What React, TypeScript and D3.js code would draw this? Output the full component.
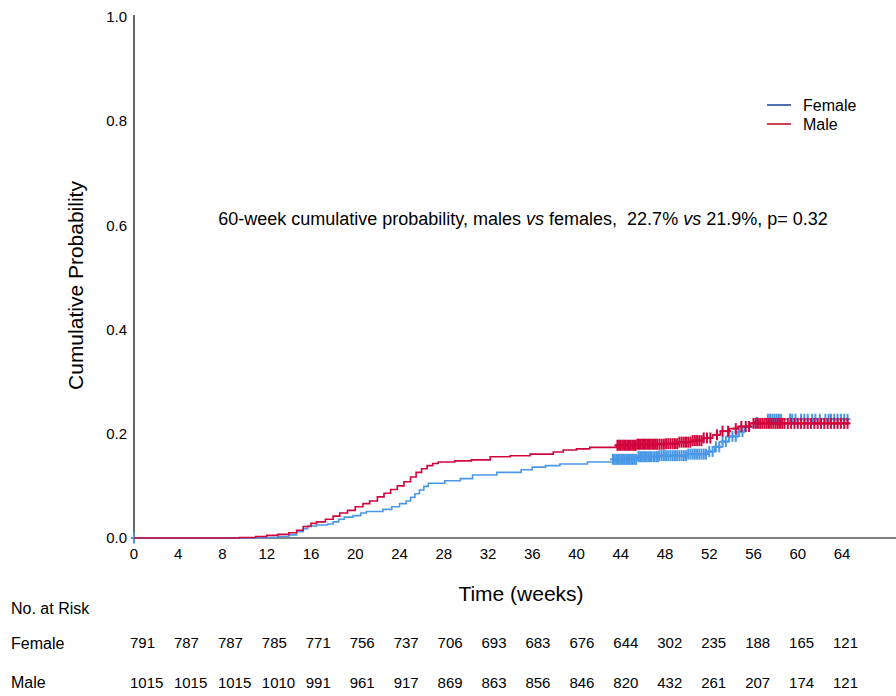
import { useEffect, useRef } from "react";
import * as d3 from "d3";

const timeTicks = [0, 4, 8, 12, 16, 20, 24, 28, 32, 36, 40, 44, 48, 52, 56, 60, 64];
const probTicks = [0, 0.2, 0.4, 0.6, 0.8, 1.0];
const lastWeek = 64.7;

// [week, cumulative probability]
const femaleSteps: [number, number][] = [
  [0, 0], [11.5, 0.001], [13, 0.003], [14, 0.006], [14.7, 0.012], [15.3, 0.018],
  [15.7, 0.023], [16.5, 0.025], [17.5, 0.027], [18, 0.031], [18.5, 0.036],
  [19, 0.04], [19.8, 0.043], [20.5, 0.048], [21, 0.051], [22.5, 0.055],
  [23.3, 0.06], [24, 0.066], [24.6, 0.071], [25, 0.078], [25.4, 0.085],
  [25.8, 0.092], [26.2, 0.099], [26.6, 0.105], [28.1, 0.11], [29.5, 0.114],
  [30.6, 0.121], [32.8, 0.126], [35, 0.131], [36, 0.136], [37.2, 0.139],
  [38.5, 0.142], [41, 0.146], [43.3, 0.151], [45.5, 0.156], [47.5, 0.158],
  [50, 0.161], [51.8, 0.166], [52.5, 0.175], [53.2, 0.185], [53.8, 0.195],
  [54.5, 0.204], [55.2, 0.213], [56, 0.222], [57, 0.228],
];

const maleSteps: [number, number][] = [
  [0, 0], [9.5, 0.001], [11, 0.003], [12, 0.005], [13, 0.007], [14, 0.01],
  [14.7, 0.015], [15.3, 0.022], [16, 0.028], [16.5, 0.031], [17.3, 0.036],
  [18, 0.042], [18.6, 0.048], [19.3, 0.053], [20, 0.06], [20.7, 0.066],
  [21.3, 0.071], [22, 0.079], [22.6, 0.086], [23.2, 0.093], [23.8, 0.1],
  [24.4, 0.108], [25, 0.117], [25.5, 0.126], [26, 0.133], [26.5, 0.139],
  [27, 0.143], [27.5, 0.146], [29, 0.148], [30.5, 0.15], [32.2, 0.156],
  [34, 0.158], [35.8, 0.161], [37.9, 0.165], [38.8, 0.169], [40, 0.171],
  [41.2, 0.174], [43.6, 0.178], [45.5, 0.18], [48, 0.181], [49.3, 0.184],
  [50.5, 0.187], [51.5, 0.192], [52.3, 0.198], [53, 0.205], [53.8, 0.21],
  [54.6, 0.214], [55.7, 0.22],
];

const femaleCensor = [
  0, 43.3, 43.45, 43.6, 43.75, 43.9, 44.05, 44.2, 44.35, 44.5, 44.65, 44.8,
  44.95, 45.1, 45.25, 45.4, 45.6, 45.75, 45.9, 46.05, 46.2, 46.35, 46.5,
  46.65, 46.8, 47.0, 47.2, 47.35, 47.5, 47.7, 47.9, 48.1, 48.3, 48.5, 48.7,
  48.9, 49.1, 49.3, 49.5, 49.7, 49.9, 50.1, 50.3, 50.5, 50.7, 50.9, 51.1,
  51.3, 51.5, 51.7, 52.0, 52.3, 52.6, 52.9, 53.2, 53.5, 53.8, 54.1, 54.4,
  54.7, 55.0, 56.3, 57.3, 57.5, 57.7, 57.9, 58.1, 58.3, 58.5, 59.3, 59.5,
  59.8, 60.3, 60.6, 60.9, 61.3, 61.6, 62.0, 62.5, 62.8, 63.0, 63.3, 63.6,
  63.9, 64.2, 64.5,
];

const maleCensor = [
  43.7, 43.85, 44.0, 44.15, 44.3, 44.45, 44.6, 44.75, 44.9, 45.05, 45.2,
  45.35, 45.5, 45.65, 45.8, 45.95, 46.1, 46.25, 46.4, 46.55, 46.7, 46.85,
  47.0, 47.15, 47.3, 47.5, 47.7, 47.9, 48.1, 48.3, 48.5, 48.7, 48.9, 49.1,
  49.3, 49.5, 49.7, 49.9, 50.1, 50.3, 50.5, 50.7, 50.9, 51.1, 51.3, 51.5,
  51.8, 52.1, 52.7, 53.2, 53.7, 54.4, 54.9, 55.3, 55.6, 56.0, 56.2, 56.4,
  56.6, 56.8, 57.0, 57.2, 57.4, 57.6, 57.8, 58.0, 58.2, 58.4, 58.6, 58.8,
  59.1, 59.4, 59.7, 60.0, 60.3, 60.6, 60.9, 61.2, 61.5, 61.8, 62.1, 62.4,
  62.7, 63.0, 63.3, 63.6, 63.9, 64.2, 64.5,
];

const femaleAtRisk = [791, 787, 787, 785, 771, 756, 737, 706, 693, 683, 676, 644, 302, 235, 188, 165, 121];
const maleAtRisk = [1015, 1015, 1015, 1010, 991, 961, 917, 869, 863, 856, 846, 820, 432, 261, 207, 174, 121];

const groups = [
  { name: "Female", steps: femaleSteps, censor: femaleCensor, atRisk: femaleAtRisk, line: "#4a98e6", key: "#3d5ea8" },
  { name: "Male", steps: maleSteps, censor: maleCensor, atRisk: maleAtRisk, line: "#d1063d", key: "#c93040" },
];

const FONT = "'Liberation Sans', Arial, sans-serif";

export default function App() {
  const svgRef = useRef<SVGSVGElement | null>(null);

  useEffect(() => {
    document.body.style.margin = "0";
    const svg = d3.select(svgRef.current);
    svg.selectAll("*").remove();

    const x = d3.scaleLinear().domain([0, 64]).range([134, 842]);
    const y = d3.scaleLinear().domain([0, 1]).range([538, 17]);
    const riskX = d3.scaleLinear().domain([0, 64]).range([130, 833]);

    // axes
    svg.append("line")
      .attr("x1", x(0)).attr("x2", x(0))
      .attr("y1", y(1) - 2).attr("y2", y(0))
      .attr("stroke", "#000").attr("stroke-width", 1.2);
    svg.append("line")
      .attr("x1", x(0)).attr("x2", 896)
      .attr("y1", y(0)).attr("y2", y(0))
      .attr("stroke", "#555").attr("stroke-width", 1.4);

    svg.append("g").selectAll("text").data(probTicks).join("text")
      .attr("x", x(0) - 7).attr("y", (d) => y(d)).attr("dy", "0.35em")
      .attr("text-anchor", "end").attr("font-size", 15).attr("font-family", FONT)
      .text((d) => d3.format(".1f")(d));

    svg.append("g").selectAll("text").data(timeTicks).join("text")
      .attr("x", (d) => x(d)).attr("y", y(0) + 16).attr("dy", "0.35em")
      .attr("text-anchor", "middle").attr("font-size", 15).attr("font-family", FONT)
      .text((d) => d);

    svg.append("text")
      .attr("transform", `translate(83,${(y(0) + y(1)) / 2 + 8}) rotate(-90)`)
      .attr("text-anchor", "middle").attr("font-size", 21).attr("font-family", FONT)
      .text("Cumulative Probability");

    svg.append("text")
      .attr("x", 521).attr("y", 601)
      .attr("text-anchor", "middle").attr("font-size", 21).attr("font-family", FONT)
      .text("Time (weeks)");

    // curves
    const line = d3.line<[number, number]>()
      .x((d) => x(d[0])).y((d) => y(d[1]))
      .curve(d3.curveStepAfter);

    groups.forEach((g) => {
      const pts: [number, number][] = [...g.steps, [lastWeek, g.steps[g.steps.length - 1][1]]];
      svg.append("path")
        .attr("d", line(pts))
        .attr("fill", "none").attr("stroke", g.line).attr("stroke-width", 1.6);

      const bis = d3.bisector((d: [number, number]) => d[0]).right;
      const valueAt = (t: number) => g.steps[Math.max(0, bis(g.steps, t) - 1)][1];
      const marks = svg.append("g").attr("stroke", g.line).attr("stroke-width", 2);
      g.censor.forEach((t) => {
        const cx = x(t);
        const cy = y(valueAt(t));
        marks.append("line").attr("x1", cx).attr("x2", cx).attr("y1", cy - 5.5).attr("y2", cy + 5.5);
        marks.append("line").attr("x1", cx - 3).attr("x2", cx + 3).attr("y1", cy).attr("y2", cy);
      });
    });

    // legend
    groups.forEach((g, i) => {
      const ly = 105 + i * 19;
      svg.append("line")
        .attr("x1", 767).attr("x2", 791).attr("y1", ly).attr("y2", ly)
        .attr("stroke", g.key).attr("stroke-width", 1.8);
      svg.append("text")
        .attr("x", 803).attr("y", ly).attr("dy", "0.35em")
        .attr("font-size", 16).attr("font-family", FONT)
        .text(g.name);
    });

    // annotation
    const note = svg.append("text")
      .attr("x", 523).attr("y", 225)
      .attr("text-anchor", "middle").attr("font-size", 18).attr("font-family", FONT)
      .attr("xml:space", "preserve");
    note.append("tspan").text("60-week cumulative probability, males ");
    note.append("tspan").attr("font-style", "italic").text("vs");
    note.append("tspan").text(" females,\u00a0\u00a022.7% ");
    note.append("tspan").attr("font-style", "italic").text("vs");
    note.append("tspan").text(" 21.9%, p= 0.32");

    // risk table
    svg.append("text")
      .attr("x", 11).attr("y", 608).attr("dy", "0.35em")
      .attr("font-size", 16).attr("font-family", FONT)
      .text("No. at Risk");

    groups.forEach((g, i) => {
      const ry = 643 + i * 39.5;
      svg.append("text")
        .attr("x", 11).attr("y", ry).attr("dy", "0.35em")
        .attr("font-size", 16).attr("font-family", FONT)
        .text(g.name);
      svg.append("g").selectAll("text").data(g.atRisk).join("text")
        .attr("x", (_d, j) => riskX(timeTicks[j])).attr("y", ry).attr("dy", "0.35em")
        .attr("font-size", 15).attr("font-family", FONT)
        .text((d) => d);
    });
  }, []);

  return <svg ref={svgRef} width={896} height={696} style={{ display: "block", background: "#fff" }}></svg>;
}
